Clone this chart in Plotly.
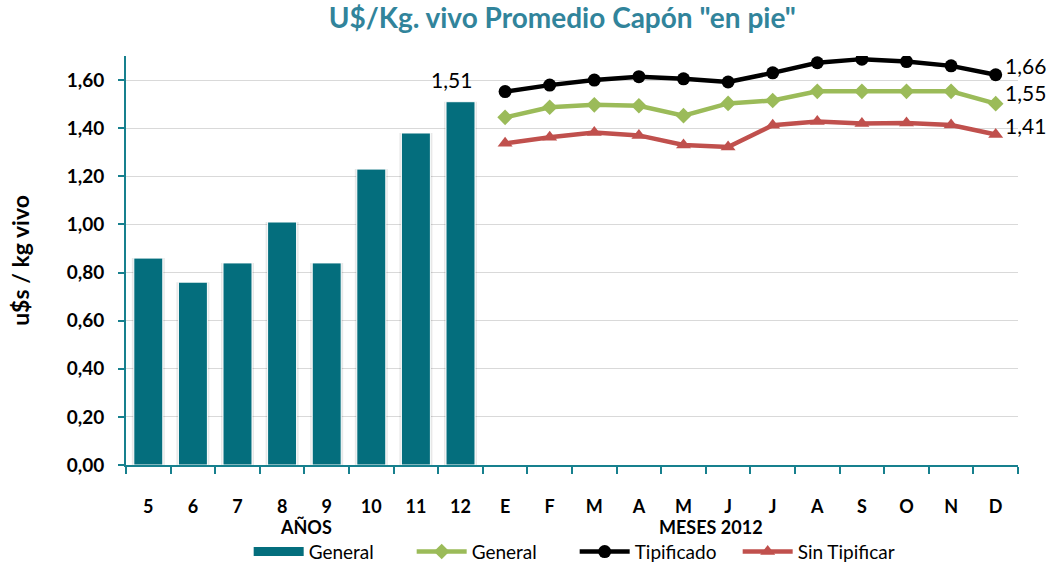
import plotly.graph_objects as go

# ---- data ----
cat_keys = ["5", "6", "7", "8", "9", "10", "11", "12",
            "E", "F", "M1", "A1", "M2", "J1", "J2", "A2", "S", "O", "N", "D"]
cat_labels = ["5", "6", "7", "8", "9", "10", "11", "12",
              "E", "F", "M", "A", "M", "J", "J", "A", "S", "O", "N", "D"]
year_keys = cat_keys[:8]
month_keys = cat_keys[8:]

general_years = [0.86, 0.76, 0.84, 1.01, 0.84, 1.23, 1.38, 1.51]
general_months = [1.445, 1.487, 1.497, 1.493, 1.452, 1.503, 1.515, 1.553, 1.553, 1.553, 1.553, 1.502]
tipificado = [1.552, 1.579, 1.600, 1.614, 1.605, 1.592, 1.630, 1.672, 1.687, 1.677, 1.659, 1.622]
sin_tipificar = [1.337, 1.362, 1.382, 1.370, 1.330, 1.322, 1.412, 1.428, 1.419, 1.421, 1.413, 1.374]

label_bar = "1,51"
label_bar_value = 1.51
right_labels = ["1,66", "1,55", "1,41"]
right_label_values = [1.66, 1.55, 1.41]

y_ticks = [0, 0.2, 0.4, 0.6, 0.8, 1.0, 1.2, 1.4, 1.6]

TEAL = "#046E7D"
AXIS = "#17808E"
GREEN = "#9BBB59"
RED = "#C0504D"
FONT = "Lato"

fig = go.Figure()

# bar shadow
fig.add_trace(go.Bar(x=year_keys, y=general_years, width=0.74,
                     marker=dict(color="rgba(0,0,0,0.09)", line=dict(width=0)),
                     showlegend=False, hoverinfo="skip"))
fig.add_trace(go.Bar(x=year_keys, y=general_years, width=0.65, name="General",
                     showlegend=False,
                     marker=dict(color=TEAL, line=dict(color="white", width=1))))
# legend entry for the bars (wide flat swatch like the reference)
fig.add_trace(go.Scatter(x=[None], y=[None], mode="lines", name="General",
                         line=dict(color=TEAL, width=9), hoverinfo="skip"))

fig.add_trace(go.Scatter(x=month_keys, y=general_months, name="General",
                         mode="lines+markers",
                         line=dict(color=GREEN, width=4.5),
                         marker=dict(symbol="diamond", size=12, color=GREEN)))
fig.add_trace(go.Scatter(x=month_keys, y=tipificado, name="Tipificado",
                         mode="lines+markers",
                         line=dict(color="black", width=4.5),
                         marker=dict(symbol="circle", size=13, color="black")))
fig.add_trace(go.Scatter(x=month_keys, y=sin_tipificar, name="Sin Tipificar",
                         mode="lines+markers",
                         line=dict(color=RED, width=4.5),
                         marker=dict(symbol="triangle-up", size=13, color=RED)))

annotations = [
    dict(x=cat_keys.index("12"), y=label_bar_value, xref="x", yref="y", text=label_bar,
         showarrow=False, yshift=22, xshift=-9,
         font=dict(size=21, color="black", family=FONT)),
    dict(x=0.17, y=-0.152, xref="paper", yref="paper", text="<b>AÑOS</b>",
         showarrow=False, yanchor="middle",
         font=dict(size=18, color="black", family=FONT)),
    dict(x=0.716, y=-0.152, xref="paper", yref="paper", text="<b>MESES 2012</b>",
         showarrow=False, yanchor="middle",
         font=dict(size=18, color="black", family=FONT)),
]
for t, v in zip(right_labels, right_label_values):
    annotations.append(dict(x=cat_keys.index("D"), y=v, xref="x", yref="y", text=t,
                            showarrow=False, xanchor="left", xshift=7,
                            font=dict(size=21, color="black", family=FONT)))

fig.update_layout(
    width=1051, height=567,
    margin=dict(l=126, r=33, t=56, b=102, autoexpand=False),
    paper_bgcolor="white", plot_bgcolor="white",
    separators=",.",
    barmode="overlay",
    font=dict(family=FONT, color="black"),
    title=dict(text="<b>U$/Kg. vivo Promedio Capón \"en pie\"</b>",
               x=0.535, xanchor="center", y=0.968, yanchor="middle",
               font=dict(size=28, color="#31849B", family=FONT)),
    xaxis=dict(type="category", categoryorder="array", categoryarray=cat_keys,
               tickmode="array", tickvals=cat_keys, ticktext=cat_labels,
               tickson="boundaries", ticks="outside", ticklen=7, tickcolor=AXIS,
               tickwidth=1.5, showline=True, linecolor=AXIS, linewidth=2,
               showgrid=False, range=[-0.5, 19.5], automargin=False,
               tickfont=dict(size=18, family=FONT, color="black", weight="bold"),
               ticklabelstandoff=24),
    yaxis=dict(range=[0, 1.70], tickmode="array", tickvals=y_ticks,
               tickformat=".2f", ticks="outside", ticklen=6, tickcolor=AXIS,
               tickwidth=1.5, showline=True, linecolor=AXIS, linewidth=2,
               showgrid=True, gridcolor="#D9D9D9", gridwidth=1, zeroline=False,
               automargin=False,
               tickfont=dict(size=19, family=FONT, color="black", weight="bold"),
               ticklabelstandoff=10,
               title=dict(text="<b>u$s / kg vivo</b>", standoff=31,
                          font=dict(size=23, family=FONT, color="black"))),
    legend=dict(orientation="h", x=0.503, xanchor="center", y=-0.212, yanchor="middle",
                font=dict(size=19, family=FONT, color="black"),
                itemwidth=50, entrywidth=98, entrywidthmode="pixels",
                tracegroupgap=0, bgcolor="rgba(0,0,0,0)"),
    annotations=annotations,
    showlegend=True,
)

fig.write_html("out.html", config={"displayModeBar": False},
               post_script="document.body.style.margin='0';")
